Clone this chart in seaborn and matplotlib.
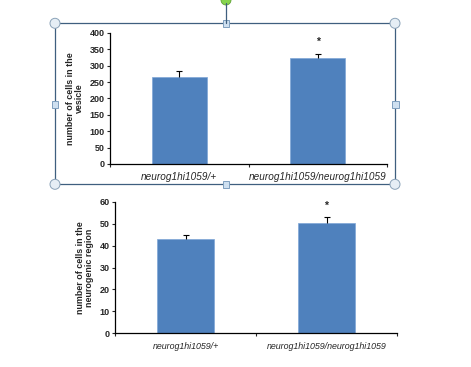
import numpy as np
import pandas as pd
import matplotlib
matplotlib.use("Agg")
import matplotlib.pyplot as plt
import seaborn as sns
from matplotlib.patches import Rectangle, Circle
from matplotlib.lines import Line2D

# data
genotypes = ["neurog1hi1059/+", "neurog1hi1059/neurog1hi1059"]
vesicle_mean = [267, 324]
vesicle_err = [18, 13]
region_mean = [43, 50.2]
region_err = [1.7, 2.7]
vesicle_star = 372
region_star = 58.3

sns.set_style("white")
plt.rcParams['font.family'] = ['Liberation Sans', 'DejaVu Sans']

bar_color = "#4F81BD"

fig = plt.figure(figsize=(4.71, 3.67), dpi=100)


def draw_panel(ax, means, errs, star, ymax, step, ylabel, xfs):
    df = pd.DataFrame({"genotype": genotypes, "count": means})
    sns.barplot(data=df, x="genotype", y="count", ax=ax, color=bar_color,
                width=0.4, errorbar=None, edgecolor="#7EA6D6", linewidth=0.5,
                saturation=1)
    # error bars only going up, cap only on top
    xs = np.arange(len(means))
    tops = np.array(means) + np.array(errs)
    ax.vlines(xs, means, tops, color="black", linewidth=0.8)
    ax.plot(xs, tops, linestyle="none", marker="_", markersize=4,
            markeredgewidth=0.8, color="black")
    ax.text(1, star, "*", ha="center", va="center", fontsize=7.5, fontweight="bold")

    ax.set_xlim(-0.5, 1.5)
    ax.set_ylim(0, ymax)
    yt = np.arange(0, ymax + 1, step)
    ax.set_yticks(yt)
    ax.set_yticklabels([str(v) for v in yt], fontweight="bold", fontsize=6.5)
    ax.tick_params(axis="y", length=2.5, width=0.8, pad=1.5, left=True)
    ax.set_xticks([0, 1])
    ax.set_xticklabels(genotypes, fontstyle="italic", fontsize=xfs)
    ax.tick_params(axis="x", length=0, pad=6)
    ax.set_xticks([-0.5, 0.5, 1.5], minor=True)
    ax.tick_params(axis="x", which="minor", length=2.5, width=0.8, bottom=True)
    ax.set_xlabel("")
    ax.set_ylabel(ylabel, fontsize=6.4, fontweight="bold", labelpad=4,
                  linespacing=1.0)
    sns.despine(ax=ax, top=True, right=True)
    for side in ["left", "bottom"]:
        ax.spines[side].set_linewidth(0.9)
        ax.spines[side].set_color("black")


ax_top = fig.add_axes([110 / 471, 1 - 164 / 367, 277 / 471, 131 / 367])
draw_panel(ax_top, vesicle_mean, vesicle_err, vesicle_star, 400, 50,
           "number of cells in the\nvesicle", 7.2)

ax_bot = fig.add_axes([115 / 471, 1 - 333.3 / 367, 282 / 471, 131.6 / 367])
draw_panel(ax_bot, region_mean, region_err, region_star, 60, 10,
           "number of cells in the\nneurogenic region", 6.4)


# selection frame around the top chart (screenshot artefact), in pixels
def inch(x, y):
    return x / 100, (367 - y) / 100


tr = fig.dpi_scale_trans
frame_col = "#3F5F7F"
x0, y0, x1, y1 = 55, 23.3, 395, 184.3
fig.add_artist(Rectangle(inch(x0, y1), (x1 - x0) / 100, (y1 - y0) / 100,
                         transform=tr, fill=False, edgecolor=frame_col, linewidth=0.9))
fig.add_artist(Line2D([2.26, 2.26], [(367 - 23.3) / 100, (367 - 3) / 100],
                      transform=tr, color=frame_col, linewidth=0.9))
fig.add_artist(Circle(inch(226, 0), 0.05, transform=tr,
                      facecolor="#86D44E", edgecolor="#5FA034", linewidth=0.6))
for cx, cy in [(x0, y0), (x1, y0), (x0, y1), (x1, y1)]:
    fig.add_artist(Circle(inch(cx, cy), 0.05, transform=tr,
                          facecolor="#E6EEF5", edgecolor="#8AA2B8", linewidth=0.7))
for cx, cy in [(226, y0), (226, y1), (x0, 104), (x1, 104)]:
    fig.add_artist(Rectangle(inch(cx - 3.5, cy + 3.5), 0.07, 0.07, transform=tr,
                             facecolor="#CFE0F0", edgecolor="#7F9FBF", linewidth=0.7))

plt.savefig("out.png", dpi=100)
